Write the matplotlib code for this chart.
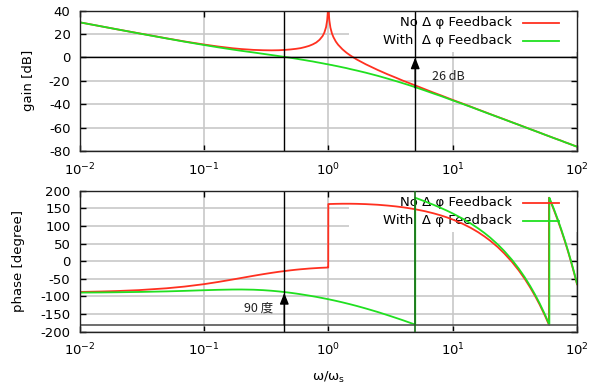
import numpy as np
import matplotlib
matplotlib.use('Agg')
import matplotlib.pyplot as plt
from matplotlib.patches import Rectangle
from matplotlib.lines import Line2D
from matplotlib.ticker import FixedLocator, NullLocator, LogFormatterSciNotation

plt.rcParams['font.family'] = ['DejaVu Sans']
plt.rcParams['axes.unicode_minus'] = False
plt.rcParams['font.size'] = 9.5

# ---------------- data ----------------
omega = [0.01, 0.015, 0.02, 0.03, 0.05, 0.07, 0.1, 0.13, 0.17, 0.2,
         0.25, 0.3, 0.35, 0.4, 0.45, 0.5, 0.55, 0.6, 0.65, 0.7,
         0.75, 0.8, 0.85, 0.9, 0.93, 0.96, 0.98, 0.99, 0.995, 0.999,
         1.001, 1.005, 1.01, 1.02, 1.04, 1.07, 1.1, 1.15, 1.2, 1.3,
         1.4, 1.5, 1.7, 2, 2.5, 3, 3.5, 4, 4.5, 5,
         6, 7, 8, 9, 10, 12, 14, 16, 18, 20,
         23, 26, 30, 34, 38, 42, 46, 50, 55, 60,
         65, 70, 75, 80, 85, 90, 95, 100]

gain_no = [30.1, 26.6, 24.1, 20.7, 16.4, 13.7, 11.1, 9.4, 7.9, 7.2,
           6.5, 6.2, 6.1, 6.2, 6.5, 6.9, 7.4, 8.0, 8.9, 9.9,
           11.2, 12.8, 15.1, 18.3, 21.3, 26.0, 31.9, 37.9, 43.9, 57.8,
           57.8, 43.8, 37.8, 31.7, 25.6, 20.6, 17.4, 13.6, 10.9, 7.0,
           4.1, 1.8, -1.8, -5.8, -10.7, -14.4, -17.3, -19.9, -22.0, -23.9,
           -27.2, -30.0, -32.3, -34.4, -36.3, -39.4, -42.1, -44.5, -46.5, -48.4,
           -50.8, -52.9, -55.4, -57.6, -59.5, -61.3, -62.8, -64.3, -66.0, -67.5,
           -68.9, -70.1, -71.3, -72.5, -73.5, -74.5, -75.4, -76.3]

gain_with = [30.1, 26.6, 24.1, 20.6, 16.3, 13.5, 10.7, 8.7, 6.8, 5.7,
             4.3, 3.1, 2.1, 1.2, 0.4, -0.3, -1.0, -1.7, -2.3, -2.9,
             -3.4, -4.0, -4.5, -5.0, -5.3, -5.6, -5.7, -5.8, -5.9, -5.9,
             -5.9, -6.0, -6.0, -6.1, -6.3, -6.5, -6.8, -7.2, -7.6, -8.4,
             -9.1, -9.9, -11.2, -13.0, -15.7, -18.1, -20.2, -22.1, -23.8, -25.4,
             -28.3, -30.8, -32.9, -34.9, -36.7, -39.7, -42.3, -44.6, -46.7, -48.5,
             -50.9, -53.0, -55.5, -57.6, -59.6, -61.3, -62.9, -64.3, -66.0, -67.5,
             -68.9, -70.2, -71.3, -72.5, -73.5, -74.5, -75.5, -76.3]

phase_no = [-87.3, -86.0, -84.7, -82.1, -76.9, -72.0, -65.2, -59.0, -52.0, -47.6,
            -41.5, -36.8, -33.1, -30.1, -27.8, -25.8, -24.2, -22.9, -21.9, -20.9,
            -20.2, -19.6, -19.0, -18.6, -18.4, -18.2, -18.0, -18.0, -18.0, -17.9,
            162.1, 162.1, 162.1, 162.2, 162.3, 162.4, 162.5, 162.7, 162.8, 163.0,
            163.0, 163.0, 162.7, 161.9, 160.1, 157.8, 155.4, 152.8, 150.1, 147.3,
            141.7, 135.9, 130.1, 124.2, 118.2, 106.3, 94.4, 82.4, 70.3, 58.3,
            40.2, 22.0, -2.1, -26.3, -50.4, -74.6, -98.9, -123.0, -153.3, 176.4,
            146.2, 115.9, 85.6, 55.4, 25.1, -5.1, -35.4, -65.7]

phase_with = [-89.1, -88.7, -88.2, -87.3, -85.7, -84.2, -82.4, -81.2, -80.4, -80.3,
              -80.9, -82.2, -83.9, -85.8, -87.8, -89.8, -91.8, -93.8, -95.8, -97.6,
              -99.5, -101.2, -103.0, -104.7, -105.7, -106.6, -107.3, -107.6, -107.8, -107.9,
              -107.9, -108.1, -108.2, -108.5, -109.2, -110.1, -111.0, -112.5, -114.0, -116.8,
              -119.6, -122.2, -127.2, -134.1, -144.2, -153.1, -160.9, -167.8, -174.2, -180.0,
              169.5, 160.1, 151.4, 143.3, 135.5, 120.8, 106.8, 93.3, 80.1, 67.1,
              47.8, 28.8, 3.8, -21.1, -45.8, -70.4, -95.0, -119.5, -150.1, 179.4,
              148.9, 118.4, 88.0, 57.6, 27.2, -3.2, -33.6, -64.0]

# phase wrap points (-180 -> +180)
wrap_no_omega = [59.39, 59.39]
wrap_no_phase = [-180.0, 180.0]
wrap_with_omega = [5.0, 59.89, 59.89]
wrap_with_phase = [180.0, -180.0, 180.0]

omega_crossover = 0.443     # unity-gain frequency (with feedback)
omega_pi = 5.0              # phase = -180 deg (with feedback)
gain_margin = -26           # dB
phase_at_crossover = -90    # deg

legend_labels = ['No Δ φ Feedback', 'With  Δ φ Feedback']

# ---------------- build series ----------------
w = np.array(omega)
xr = np.insert(w, [69, 69], wrap_no_omega)
yr = np.insert(np.array(phase_no), [69, 69], wrap_no_phase)
xg = np.insert(w, [50, 69, 69], wrap_with_omega)
yg = np.insert(np.array(phase_with), [50, 69, 69], wrap_with_phase)

RED = '#ff3020'; GREEN = '#20e020'
fig = plt.figure(figsize=(5.96, 3.91), dpi=100)
ax1 = fig.add_axes([0.1334, 0.6138, 0.8348, 0.3588])
ax2 = fig.add_axes([0.1334, 0.1517, 0.8348, 0.3606])

for ax in (ax1, ax2):
    ax.set_xscale('log'); ax.set_xlim(0.01, 100)
    ax.xaxis.set_major_locator(FixedLocator([0.01, 0.1, 1, 10, 100]))
    ax.xaxis.set_minor_locator(NullLocator())
    ax.xaxis.set_major_formatter(LogFormatterSciNotation())
    ax.tick_params(direction='in', length=4, width=1, top=True, right=True, pad=6.5)
    ax.tick_params(axis='x', pad=7.5)
    ax.grid(True, color='#c8c8c8', lw=1.2)
    ax.set_axisbelow(True)
    ax.add_patch(Rectangle((0.5417, 0.7078), 0.4583, 0.2922, transform=ax.transAxes,
                           fc='white', ec='none', zorder=1.5))
    for sp in ax.spines.values():
        sp.set_linewidth(1); sp.set_color('#222222')

ax1.set_ylim(-80, 40); ax1.set_yticks(np.arange(-80, 41, 20))
ax2.set_ylim(-200, 200); ax2.set_yticks(np.arange(-200, 201, 50))

ax1.plot(w, gain_no, color=RED, lw=1.3, zorder=2)
ax1.plot(w, gain_with, color=GREEN, lw=1.3, zorder=2.1)
ax2.plot(xr, yr, color=RED, lw=1.3, zorder=2)
ax2.plot(xg, yg, color=GREEN, lw=1.3, zorder=2.1)

ax1.axhline(0, color='black', lw=1, zorder=2.5)
ax1.axvline(omega_crossover, color='black', lw=1, zorder=2.5)
ax1.axvline(omega_pi, color='black', lw=1, zorder=2.5)
ax1.annotate('', xy=(omega_pi, 0), xytext=(omega_pi, gain_margin),
             arrowprops=dict(arrowstyle='-|>,head_length=0.7,head_width=0.28', color='black', lw=1,
                             shrinkA=0, shrinkB=0), zorder=3)
ax2.axhline(-180, color='#555555', lw=1.2, zorder=2.5)
ax2.axvline(omega_crossover, color='black', lw=1, zorder=2.5)
ax2.axvline(omega_pi, color='#1a6e1a', lw=1.2, zorder=3)
ax2.annotate('', xy=(omega_crossover, phase_at_crossover), xytext=(omega_crossover, -180),
             arrowprops=dict(arrowstyle='-|>,head_length=0.7,head_width=0.28', color='black', lw=1,
                             shrinkA=0, shrinkB=0), zorder=3)

ax1.text(9.17, -15.9, '26 dB', ha='center', va='center', fontsize=9,
         family=['Noto Sans CJK JP', 'DejaVu Sans'], color='#222222')
ax2.text(0.275, -132.8, '90 度', ha='center', va='center', fontsize=9,
         family=['Noto Sans CJK JP', 'DejaVu Sans'], color='#222222')

for ax, ys in ((ax1, (0.9195, 0.7912, 0.9145, 0.7819)), (ax2, (0.9163, 0.7851, 0.9149, 0.783))):
    ax.text(0.8693, ys[0], legend_labels[0], transform=ax.transAxes, ha='right', va='center', zorder=1.8)
    ax.text(0.8693, ys[1], legend_labels[1], transform=ax.transAxes, ha='right', va='center', zorder=1.8)
    ax.add_line(Line2D([0.8909, 0.9644], [ys[2], ys[2]], transform=ax.transAxes, color=RED, lw=1.3, zorder=4))
    ax.add_line(Line2D([0.8909, 0.9644], [ys[3], ys[3]], transform=ax.transAxes, color=GREEN, lw=1.3, zorder=4))

ax1.set_ylabel('gain [dB]')
ax2.set_ylabel('phase [degree]')
ax1.yaxis.set_label_coords(-0.0894, 0.5)
ax2.yaxis.set_label_coords(-0.1095, 0.5)
ax2.set_xlabel(r'$\mathregular{\omega/\omega_s}$')
ax2.xaxis.set_label_coords(0.5, -0.2716)

fig.savefig('out.png', dpi=100)
